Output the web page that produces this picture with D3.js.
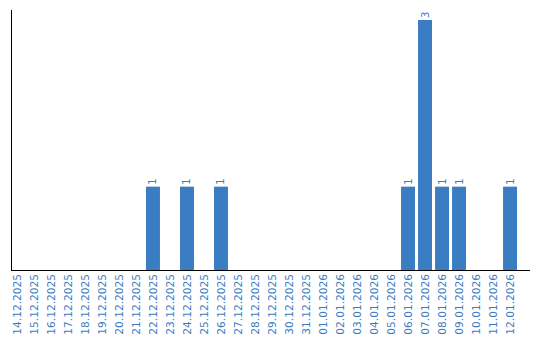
<!DOCTYPE html>
<html><head><meta charset="utf-8">
<script src="https://cdn.jsdelivr.net/npm/d3@7"></script>
<style>html,body{margin:0;padding:0;background:#fff;}</style>
</head><body>
<svg id="chart" width="540" height="340"></svg>
<script>
const categories = ["14.12.2025","15.12.2025","16.12.2025","17.12.2025","18.12.2025","19.12.2025","20.12.2025","21.12.2025","22.12.2025","23.12.2025","24.12.2025","25.12.2025","26.12.2025","27.12.2025","28.12.2025","29.12.2025","30.12.2025","31.12.2025","01.01.2026","02.01.2026","03.01.2026","04.01.2026","05.01.2026","06.01.2026","07.01.2026","08.01.2026","09.01.2026","10.01.2026","11.01.2026","12.01.2026"];
const values = [0,0,0,0,0,0,0,0,1,0,1,0,1,0,0,0,0,0,0,0,0,0,0,1,3,1,1,0,0,1];

const svg = d3.select("#chart");
const barColor = "#3b7dc3";
const textColor = "#3a7cc4";
const font = "'DejaVu Sans', Verdana, sans-serif";

const x = d3.scaleBand().domain(categories).range([10, 517]).paddingInner(0.18).paddingOuter(0);
const y = d3.scaleLinear().domain([0, 3]).range([270, 20]);

const data = categories.map((c, i) => ({c, v: values[i]}));

svg.selectAll("rect.bar").data(data.filter(d => d.v > 0)).join("rect")
  .attr("class", "bar")
  .attr("x", d => x(d.c))
  .attr("width", x.bandwidth())
  .attr("y", d => y(d.v))
  .attr("height", d => y(0) - y(d.v))
  .attr("fill", barColor);

svg.selectAll("text.val").data(data.filter(d => d.v > 0)).join("text")
  .attr("class", "val")
  .attr("transform", d => `translate(${x(d.c) + x.bandwidth()/2 + 3.5},${y(d.v) - 2}) rotate(-90)`)
  .attr("text-anchor", "start")
  .attr("font-family", font)
  .attr("font-size", 10)
  .attr("fill", textColor)
  .text(d => d.v);

const xAxis = d3.axisBottom(x).tickSize(0).tickPadding(0);
const gx = svg.append("g").attr("transform", "translate(0,270)").call(xAxis);
gx.select(".domain").remove();
gx.selectAll(".tick text")
  .attr("transform", "translate(3.8,4) rotate(-90)")
  .attr("x", 0).attr("y", 0).attr("dy", 0)
  .attr("text-anchor", "end")
  .attr("font-family", font)
  .attr("font-size", 10.6)
  .attr("fill", textColor);

svg.append("line").attr("x1", 11.5).attr("x2", 11.5).attr("y1", 10).attr("y2", 270)
  .attr("stroke", "#000").attr("stroke-width", 1);
svg.append("line").attr("x1", 11).attr("x2", 530).attr("y1", 270.5).attr("y2", 270.5)
  .attr("stroke", "#000").attr("stroke-width", 1);
</script>
</body></html>
